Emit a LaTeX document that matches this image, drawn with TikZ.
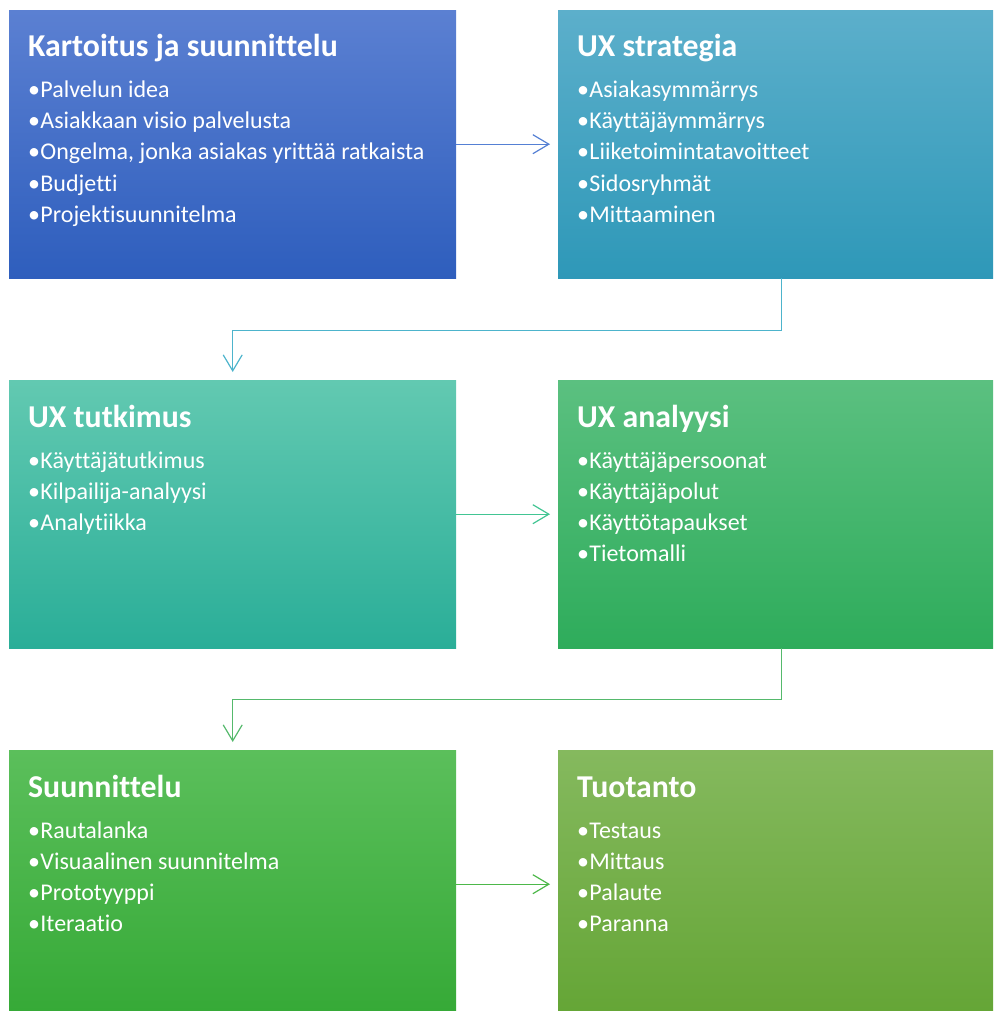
\documentclass[tikz,border=0pt]{standalone}
\usepackage{fontspec}
\setmainfont[Ligatures={NoCommon}]{Carlito}
\usetikzlibrary{arrows.meta,calc}
\definecolor{c1t}{HTML}{5B80D2}\definecolor{c1b}{HTML}{2E5EBD}
\definecolor{c2t}{HTML}{5CAFCB}\definecolor{c2b}{HTML}{2E98B8}
\definecolor{c3t}{HTML}{62C9B1}\definecolor{c3b}{HTML}{2AAE98}
\definecolor{c4t}{HTML}{5BC080}\definecolor{c4b}{HTML}{2EAC5B}
\definecolor{c5t}{HTML}{5BBF5B}\definecolor{c5b}{HTML}{35A936}
\definecolor{c6t}{HTML}{85B95E}\definecolor{c6b}{HTML}{64A535}
\definecolor{a1}{HTML}{5580D4}
\definecolor{a2}{HTML}{4DB4CC}
\definecolor{a3}{HTML}{42C593}
\definecolor{a4}{HTML}{55B96C}
\definecolor{a5}{HTML}{4DB84A}
\tikzset{
  uxbox/.style={rectangle,draw=none,minimum width=447pt,minimum height=268pt,
    anchor=north west,inner sep=0pt},
  uxtitle/.style={anchor=base west,inner sep=0pt,text=white,
    font=\fontsize{31.8}{36}\selectfont\bfseries},
  uxitem/.style={anchor=base west,inner sep=0pt,text=white,
    font=\fontsize{24}{28}\selectfont},
  arr/.style={line width=1.2pt,-{Straight Barb[length=16pt,width=19pt,line width=1.2pt]},shorten >=8pt}
}
\newcommand{\uxmake}[6]{%
  \node[uxbox,top color=#3,bottom color=#4] (#1) at (#2) {};
  \node[uxtitle] (#1t) at ($(#1.north west)+(19,47)$) {#5};
  \foreach \it [count=\i] in {#6} {
    \node[uxitem] (#1i\i) at ($(#1.north west)+(19,57+31*\i)$) {•\kern0.3pt\it};
  }%
}
\begin{document}
\begin{tikzpicture}[x=1pt,y=-1pt]
\useasboundingbox (0,0) rectangle (993,1011);
\clip (0,0) rectangle (993,1011);
\uxmake{b1}{9,10}{c1t}{c1b}{Kartoitus ja suunnittelu}{Palvelun idea,Asiakkaan visio palvelusta,{Ongelma, jonka asiakas yrittää ratkaista},Budjetti,Projektisuunnitelma}
\uxmake{b2}{558,10}{c2t}{c2b}{UX strategia}{Asiakasymmärrys,Käyttäjäymmärrys,Liiketoimintatavoitteet,Sidosryhmät,Mittaaminen}
\uxmake{b3}{9,380}{c3t}{c3b}{UX tutkimus}{Käyttäjätutkimus,Kilpailija-analyysi,Analytiikka}
\uxmake{b4}{558,380}{c4t}{c4b}{UX analyysi}{Käyttäjäpersoonat,Käyttäjäpolut,Käyttötapaukset,Tietomalli}
\uxmake{b5}{9,750}{c5t}{c5b}{Suunnittelu}{Rautalanka,Visuaalinen suunnitelma,Prototyyppi,Iteraatio}
\uxmake{b6}{558,750}{c6t}{c6b}{Tuotanto}{Testaus,Mittaus,Palaute,Paranna}
\draw[arr,a1] (b1.east) -- (b2.west);
\draw[arr,a2] (b2.south) -- ++(0,52) -| (b3.north);
\draw[arr,a3] (b3.east) -- (b4.west);
\draw[arr,a4] (b4.south) -- ++(0,51) -| (b5.north);
\draw[arr,a5] (b5.east) -- (b6.west);
\end{tikzpicture}
\end{document}
